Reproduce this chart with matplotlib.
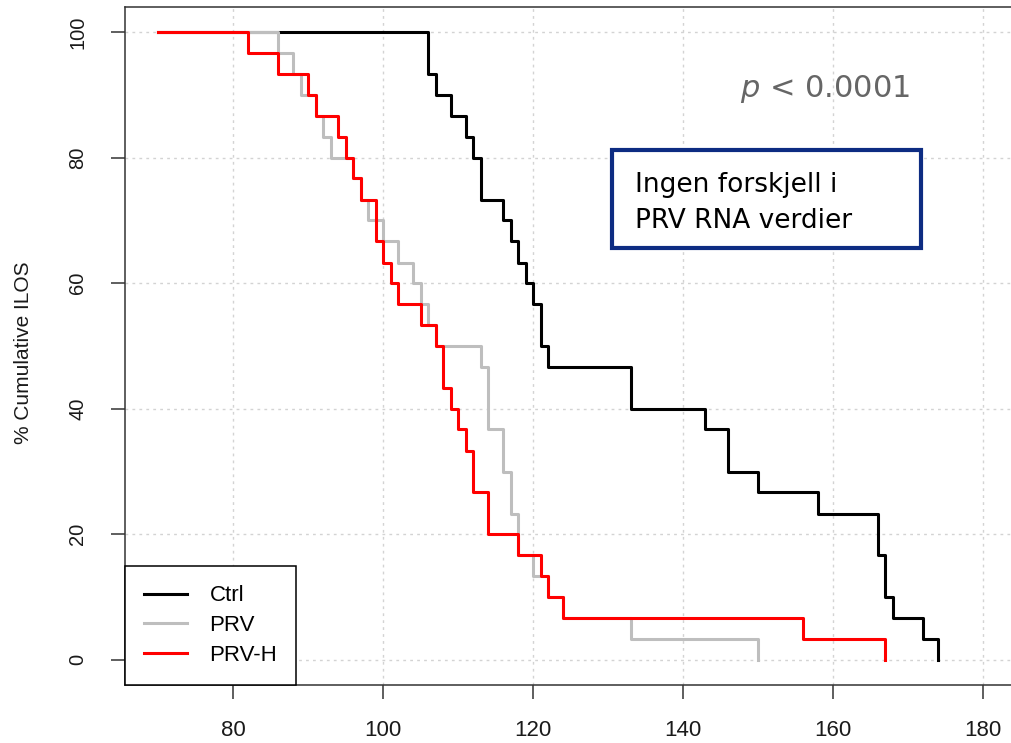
import numpy as np
import matplotlib
matplotlib.use("Agg")
from matplotlib import pyplot as plt
from matplotlib.patches import Rectangle

# Kaplan-Meier-liknende trinnkurver (% Cumulative ILOS)
ctrl_x = [70, 106, 107, 109, 111, 112, 113, 116, 117, 118, 119, 120, 121, 122,
          133, 143, 146, 150, 158, 166, 167, 168, 172, 174]
ctrl_y = [100, 93.3, 90, 86.7, 83.3, 80, 73.3, 70, 66.7, 63.3, 60, 56.7, 50, 46.7,
          40, 36.7, 30, 26.7, 23.3, 16.7, 10, 6.7, 3.3, 0]

prv_x = [70, 86, 88, 89, 91, 92, 93, 96, 97, 98, 100, 102, 104, 105, 106, 107,
         113, 114, 116, 117, 118, 120, 122, 124, 133, 150]
prv_y = [100, 96.7, 93.3, 90, 86.7, 83.3, 80, 76.7, 73.3, 70, 66.7, 63.3, 60, 56.7,
         53.3, 50, 46.7, 36.7, 30, 23.3, 16.7, 13.3, 10, 6.7, 3.3, 0]

prvh_x = [70, 82, 86, 90, 91, 94, 95, 96, 97, 99, 100, 101, 102, 105, 107, 108,
          109, 110, 111, 112, 114, 118, 121, 122, 124, 156, 167]
prvh_y = [100, 96.7, 93.3, 90, 86.7, 83.3, 80, 76.7, 73.3, 66.7, 63.3, 60, 56.7,
          53.3, 50, 43.3, 40, 36.7, 33.3, 26.7, 20, 16.7, 13.3, 10, 6.7, 3.3, 0]

labels = ["Ctrl", "PRV", "PRV-H"]
colors = ["black", "#BEBEBE", "#FF0000"]
x_ticks = [80, 100, 120, 140, 160, 180]
y_ticks = [0, 20, 40, 60, 80, 100]

plt.rcParams['font.family'] = ['Liberation Sans', 'DejaVu Sans']
plt.rcParams['mathtext.fontset'] = 'dejavusans'

fig = plt.figure(figsize=(10.12, 7.43), dpi=100)
ax = fig.add_axes([125/1012, 58/743, 891/1012, 678/743])

# grid (stiplet, lys grå)
for xt in x_ticks:
    ax.axvline(xt, color='#D3D3D3', lw=1, ls=(0, (2, 3)), zorder=0)
for yt in y_ticks:
    ax.axhline(yt, color='#D3D3D3', lw=1, ls=(0, (2, 3)), zorder=0)

series = [(ctrl_x, ctrl_y), (prv_x, prv_y), (prvh_x, prvh_y)]
for (xs, ys), lab, c in zip(series, labels, colors):
    ax.step(xs, ys, where='post', color=c, lw=2.2, label=lab)

ax.set_xlim(65.6, 184.4)
ax.set_ylim(-4, 104)
ax.set_xticks(x_ticks)
ax.set_yticks(y_ticks)
for sp in ax.spines.values():
    sp.set_linewidth(1.1)
    sp.set_color('#333333')
ax.tick_params(axis='x', length=10, width=1.1, pad=15, labelsize=16,
               labelcolor='#1a1a1a', color='#333333')
ax.tick_params(axis='y', length=10, width=1.1, pad=17, labelsize=14.5,
               labelcolor='#1a1a1a', color='#333333')
for t in ax.get_yticklabels():
    t.set_rotation(90)
    t.set_va('center')
ax.set_ylabel('% Cumulative ILOS', fontsize=15, color='#1a1a1a')
ax.yaxis.set_label_coords(-0.103, 0.49)

leg = ax.legend(loc='lower left', borderaxespad=0, fancybox=False,
                edgecolor='black', framealpha=1, fontsize=16,
                handlelength=1.95, handletextpad=1.0, labelspacing=0.4,
                borderpad=0.85)
leg.get_frame().set_linewidth(1.1)

# p-verdi
fig.text(910/1012, 1 - 97/743, r'$\it{p}$ < 0.0001', ha='right', va='baseline',
         fontsize=22, color='#666666', family='DejaVu Sans')

# tekstboks
fig.patches.append(Rectangle((612/1012, 1 - 248/743), 309/1012, 98/743,
                             transform=fig.transFigure, facecolor='white',
                             edgecolor='#0D2C82', lw=3, zorder=5))
fig.text(635/1012, 1 - 192/743, 'Ingen forskjell i', ha='left', va='baseline',
         fontsize=19, color='black', family='DejaVu Sans', zorder=6)
fig.text(635/1012, 1 - 228/743, 'PRV RNA verdier', ha='left', va='baseline',
         fontsize=19, color='black', family='DejaVu Sans', zorder=6)

fig.savefig('out.png', dpi=100)
